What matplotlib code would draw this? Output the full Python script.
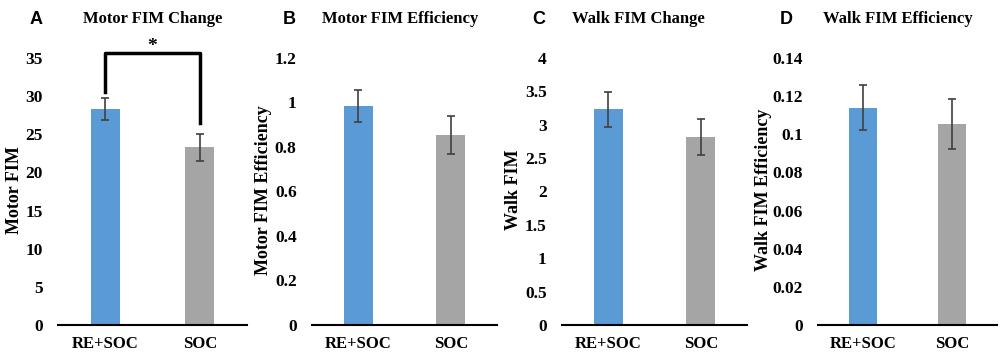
import matplotlib
matplotlib.use("Agg")
import matplotlib.pyplot as plt

groups = ["RE+SOC", "SOC"]

motor_change = [28.3, 23.3]
motor_change_err = [1.45, 1.75]
motor_eff = [0.985, 0.853]
motor_eff_err = [0.072, 0.085]
walk_change = [3.23, 2.82]
walk_change_err = [0.26, 0.27]
walk_eff = [0.114, 0.1055]
walk_eff_err = [0.012, 0.013]

panel_letters = ["A", "B", "C", "D"]
panel_titles = ["Motor FIM Change", "Motor FIM Efficiency", "Walk FIM Change", "Walk FIM Efficiency"]
y_labels = ["Motor FIM", "Motor FIM Efficiency", "Walk FIM", "Walk FIM Efficiency"]
y_ticks = [
    [0, 5, 10, 15, 20, 25, 30, 35],
    [0, 0.2, 0.4, 0.6, 0.8, 1.0, 1.2],
    [0, 0.5, 1, 1.5, 2, 2.5, 3, 3.5, 4],
    [0, 0.02, 0.04, 0.06, 0.08, 0.1, 0.12, 0.14],
]
y_tick_labels = [
    ["0", "5", "10", "15", "20", "25", "30", "35"],
    ["0", "0.2", "0.4", "0.6", "0.8", "1", "1.2"],
    ["0", "0.5", "1", "1.5", "2", "2.5", "3", "3.5", "4"],
    ["0", "0.02", "0.04", "0.06", "0.08", "0.1", "0.12", "0.14"],
]
values = [motor_change, motor_eff, walk_change, walk_eff]
errors = [motor_change_err, motor_eff_err, walk_change_err, walk_eff_err]

# significance bracket in panel A (data units)
bracket_top = 35.7
bracket_legs = [30.6, 26.5]

serif = "Liberation Serif"
sans = "Liberation Sans"
bar_colors = ["#5B9BD5", "#A5A5A5"]

fig = plt.figure(figsize=(10, 3.56), dpi=100)

# axes boxes in pixels: left, right
boxes = [(58, 247), (312, 497), (562, 747), (818, 997)]
top_px, bottom_px = 58, 325
letter_x = [36, 289, 539, 786]
title_x = [153, 400, 638, 898]
ylab_x = [15, 264, 514, 764]

for i in range(4):
    l, r = boxes[i]
    ax = fig.add_axes([l / 1000, 1 - bottom_px / 356, (r - l) / 1000, (bottom_px - top_px) / 356])
    x = range(len(groups))
    ax.bar(x, values[i], width=0.31, color=bar_colors, zorder=2)
    ax.errorbar(x, values[i], yerr=errors[i], fmt="none", ecolor="#404040",
                elinewidth=1.2, capsize=3, capthick=1.2, zorder=3)
    ax.set_xlim(-0.5, 1.5)
    ax.set_ylim(0, y_ticks[i][-1])
    ax.set_xticks(list(x))
    ax.set_xticklabels(groups, fontfamily=serif, fontweight="bold", fontsize=12)
    ax.set_yticks(y_ticks[i])
    ax.set_yticklabels(y_tick_labels[i], fontfamily=serif, fontweight="bold", fontsize=12.5)
    ax.tick_params(axis="both", length=0)
    ax.tick_params(axis="y", pad=11)
    ax.tick_params(axis="x", pad=8)
    for s in ["top", "right", "left"]:
        ax.spines[s].set_visible(False)
    ax.spines["bottom"].set_linewidth(1.5)
    ax.spines["bottom"].set_color("black")
    ax.spines["bottom"].set_zorder(4)

    ax.set_ylabel(y_labels[i], fontfamily=serif, fontweight="bold", fontsize=13, va="center")
    ax.yaxis.set_label_coords((ylab_x[i] - l) / (r - l), (bottom_px - 190) / (bottom_px - top_px))

    fig.text(letter_x[i] / 1000, 1 - 19 / 356, panel_letters[i], fontfamily=sans,
             fontweight="bold", fontsize=13, ha="center", va="center")
    fig.text(title_x[i] / 1000, 1 - 19 / 356, panel_titles[i], fontfamily=serif,
             fontweight="bold", fontsize=12, ha="center", va="center")

    if i == 0:
        ax.plot([0, 0, 1, 1], [bracket_legs[0], bracket_top, bracket_top, bracket_legs[1]],
                color="black", lw=2.5, clip_on=False, zorder=5)
        ax.text(0.5, 36.55, "*", ha="center", va="center", fontsize=14,
                fontfamily=serif, fontweight="bold")

fig.savefig("out.png", dpi=100)
